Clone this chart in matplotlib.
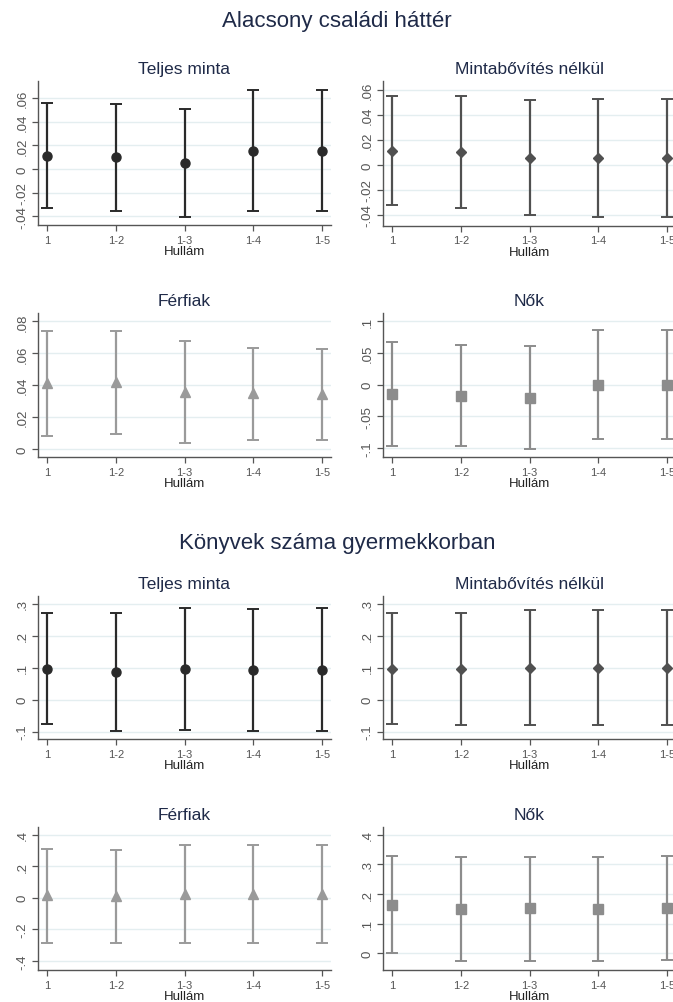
import matplotlib.pyplot as plt
from matplotlib.ticker import FuncFormatter

plt.rcParams['font.family'] = ['Liberation Sans', 'DejaVu Sans']

waves = ["1", "1-2", "1-3", "1-4", "1-5"]

# Alacsony családi háttér
low_all_mean = [0.011, 0.010, 0.005, 0.0155, 0.0155]
low_all_hi = [0.0555, 0.055, 0.0507, 0.0668, 0.0668]
low_all_lo = [-0.0332, -0.0357, -0.0408, -0.0357, -0.0357]

low_nob_mean = [0.0114, 0.0107, 0.0059, 0.0053, 0.0053]
low_nob_hi = [0.0554, 0.0554, 0.052, 0.0525, 0.0525]
low_nob_lo = [-0.032, -0.0344, -0.0397, -0.0419, -0.0413]

low_men_mean = [0.0412, 0.0422, 0.0359, 0.0349, 0.0343]
low_men_hi = [0.0742, 0.0738, 0.0675, 0.0633, 0.0625]
low_men_lo = [0.0083, 0.0096, 0.0038, 0.0058, 0.0058]

low_wom_mean = [-0.0147, -0.0173, -0.0205, -0.0005, -0.0005]
low_wom_hi = [0.0678, 0.0626, 0.0605, 0.0858, 0.0858]
low_wom_lo = [-0.0962, -0.0972, -0.102, -0.0861, -0.0861]

# Könyvek száma gyermekkorban
book_all_mean = [0.096, 0.086, 0.095, 0.093, 0.093]
book_all_hi = [0.2727, 0.2727, 0.2874, 0.284, 0.2874]
book_all_lo = [-0.0773, -0.098, -0.096, -0.098, -0.098]

book_nob_mean = [0.096, 0.095, 0.100, 0.100, 0.100]
book_nob_hi = [0.2727, 0.2727, 0.281, 0.281, 0.281]
book_nob_lo = [-0.0773, -0.080, -0.080, -0.080, -0.080]

book_men_mean = [0.016, 0.013, 0.027, 0.025, 0.025]
book_men_hi = [0.308, 0.304, 0.337, 0.333, 0.333]
book_men_lo = [-0.285, -0.289, -0.289, -0.289, -0.289]

book_wom_mean = [0.164, 0.150, 0.154, 0.150, 0.154]
book_wom_hi = [0.328, 0.326, 0.326, 0.326, 0.329]
book_wom_lo = [0.0, -0.027, -0.025, -0.025, -0.023]

W, H = 673, 1003
fig = plt.figure(figsize=(W / 100, H / 100), dpi=100)


def stata_fmt(v, pos):
    if abs(v) < 1e-9:
        return "0"
    s = ("%g" % round(v, 4))
    return s.replace("0.", ".")


def panel(left, top, bottom, title, mean, hi, lo, marker, color, ylim, yticks):
    width = 293
    ax = fig.add_axes([left / W, 1 - bottom / H, width / W, (bottom - top) / H])
    x = list(range(len(waves)))
    yerr = [[m - l for m, l in zip(mean, lo)], [h - m for m, h in zip(mean, hi)]]
    ax.errorbar(x, mean, yerr=yerr, fmt=marker, color=color, ecolor=color,
                markersize=6.5 if marker != "D" else 5.5, elinewidth=1.6,
                capsize=4, capthick=1.4, zorder=3)
    ax.set_xlim(-0.13, 4.13)
    ax.set_ylim(*ylim)
    ax.set_xticks(x)
    ax.set_xticklabels(waves, fontsize=8, color="#333333")
    ax.set_yticks(yticks)
    ax.yaxis.set_major_formatter(FuncFormatter(stata_fmt))
    for lab in ax.get_yticklabels():
        lab.set_rotation(90)
        lab.set_va("center")
        lab.set_fontsize(9.5)
        lab.set_color("#333333")
    ax.grid(axis="y", color="#e4eef0", linewidth=1.0, zorder=0)
    for s in ["top", "right"]:
        ax.spines[s].set_visible(False)
    for s in ["left", "bottom"]:
        ax.spines[s].set_color("#555555")
        ax.spines[s].set_linewidth(1.0)
    ax.tick_params(colors="#555555", length=4, width=0.9, pad=3)
    ax.set_xlabel("Hullám", fontsize=9.5, color="#222222", labelpad=0.3)
    ax.set_title(title, fontsize=12.5, color="#1f2a48", pad=6)
    return ax


fig.text(337 / W, 1 - 22 / H, "Alacsony családi háttér", ha="center", va="center",
         fontsize=16, color="#1f2a48")
fig.text(337 / W, 1 - 543 / H, "Könyvek száma gyermekkorban", ha="center", va="center",
         fontsize=16, color="#1f2a48")

dark = "#2a2a2a"
mid = "#505050"
light = "#9a9a9a"
sq = "#8c8c8c"

panel(38, 82, 226, "Teljes minta", low_all_mean, low_all_hi, low_all_lo, "o", dark,
      (-0.0473, 0.0744), [-0.04, -0.02, 0, 0.02, 0.04, 0.06])
panel(383, 82, 226.7, "Mintabővítés nélkül", low_nob_mean, low_nob_hi, low_nob_lo, "D", mid,
      (-0.0486, 0.0672), [-0.04, -0.02, 0, 0.02, 0.04, 0.06])
panel(38, 314, 458, "Férfiak", low_men_mean, low_men_hi, low_men_lo, "^", light,
      (-0.005, 0.0853), [0, 0.02, 0.04, 0.06, 0.08])
panel(383, 314, 458, "Nők", low_wom_mean, low_wom_hi, low_wom_lo, "s", sq,
      (-0.114, 0.113), [-0.1, -0.05, 0, 0.05, 0.1])

panel(38, 597, 740, "Teljes minta", book_all_mean, book_all_hi, book_all_lo, "o", dark,
      (-0.123, 0.325), [-0.1, 0, 0.1, 0.2, 0.3])
panel(383, 597, 740, "Mintabővítés nélkül", book_nob_mean, book_nob_hi, book_nob_lo, "D", mid,
      (-0.123, 0.325), [-0.1, 0, 0.1, 0.2, 0.3])
panel(38, 828, 971, "Férfiak", book_men_mean, book_men_hi, book_men_lo, "^", light,
      (-0.457, 0.448), [-0.4, -0.2, 0, 0.2, 0.4])
panel(383, 828, 971, "Nők", book_wom_mean, book_wom_hi, book_wom_lo, "s", sq,
      (-0.056, 0.426), [0, 0.1, 0.2, 0.3, 0.4])

fig.savefig("out.png", dpi=100)
